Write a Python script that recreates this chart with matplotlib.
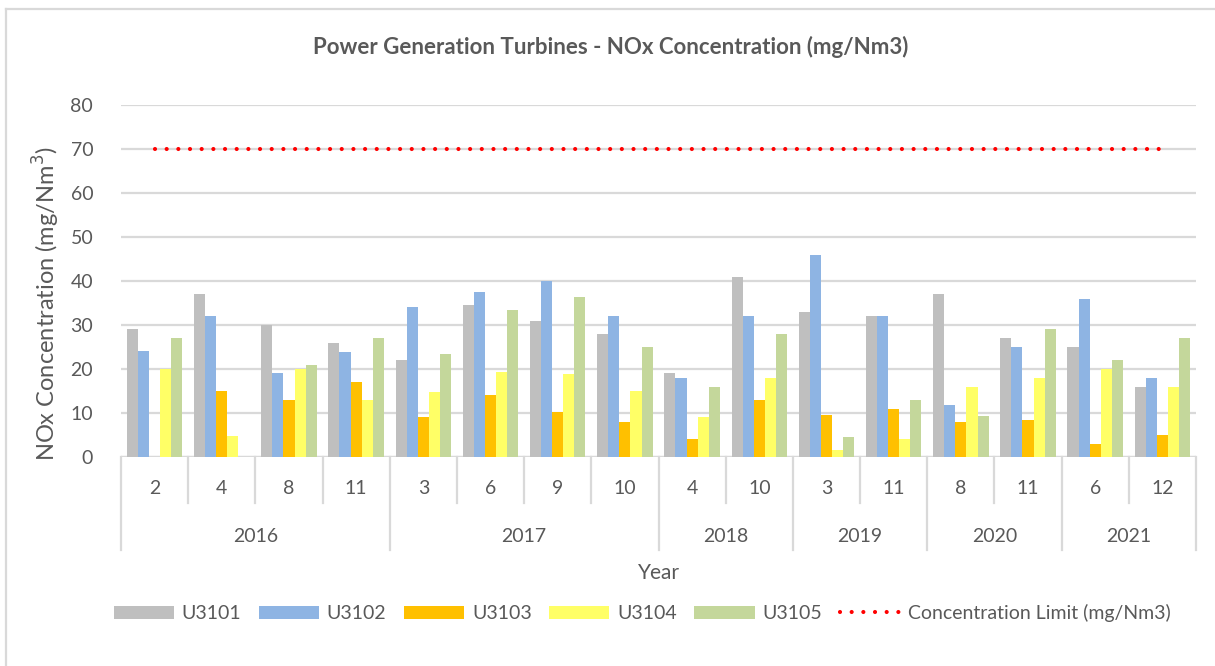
import numpy as np
import matplotlib
matplotlib.use("Agg")
import matplotlib.pyplot as plt
from matplotlib.patches import Patch
from matplotlib.lines import Line2D
import matplotlib.transforms as mtransforms

# ---- data ----
months = ['2', '4', '8', '11', '3', '6', '9', '10', '4', '10', '3', '11', '8', '11', '6', '12']
years = ['2016', '2017', '2018', '2019', '2020', '2021']
months_per_year = [4, 4, 2, 2, 2, 2]
series_names = ['U3101', 'U3102', 'U3103', 'U3104', 'U3105']
u3101 = [29, 37, 30, 26, 22, 34.5, 31, 28, 19, 41, 33, 32, 37, 27, 25, 16]
u3102 = [24, 32, 19, 23.8, 34, 37.5, 40, 32, 18, 32, 46, 32, 11.8, 25, 36, 18]
u3103 = [np.nan, 15, 13, 17, 9, 14, 10.3, 8, 4, 13, 9.5, 11, 8, 8.3, 3, 5]
u3104 = [20, 4.8, 20, 13, 14.7, 19.3, 18.9, 15, 9, 18, 1.5, 4, 16, 18, 20, 16]
u3105 = [27, np.nan, 21, 27, 23.4, 33.3, 36.4, 25, 16, 28, 4.5, 13, 9.4, 29, 22, 27]
limit = [70] * 16
limit_name = 'Concentration Limit (mg/Nm3)'

colors = ['#BFBFBF', '#8EB4E3', '#FFC000', '#FFFF66', '#C4D79B']
txt = '#595959'
grid_c = '#D9D9D9'

plt.rcParams['font.family'] = ['Lato', 'DejaVu Sans']

W, H = 1215, 666
fig = plt.figure(figsize=(W / 100, H / 100), dpi=100)
L, R, B, T = 121, 1196, 457, 105
ax = fig.add_axes([L / W, 1 - B / H, (R - L) / W, (B - T) / H])

n = len(months)
x = np.arange(n)
bw = 1 / 6.05
all_series = [u3101, u3102, u3103, u3104, u3105]
for i, (vals, c) in enumerate(zip(all_series, colors)):
    ax.bar(x + (i - 2) * bw, vals, width=bw, color=c, edgecolor='none', zorder=3)

ax.plot(x, limit, color='#FF0000', lw=3.0, linestyle=(0, (0.001, 2.8)),
        dash_capstyle='round', zorder=4)

ax.set_xlim(-0.5, n - 0.5)
ax.set_ylim(0, 80)
ax.set_yticks(np.arange(0, 81, 10))
ax.yaxis.grid(True, color=grid_c, lw=1.6, zorder=0)
ax.set_axisbelow(True)
for s in ax.spines.values():
    s.set_visible(False)
ax.tick_params(axis='y', length=0, pad=20, labelsize=14, labelcolor=txt)
ax.set_xticks([])
ax.axhline(0, color=grid_c, lw=1.6, zorder=2)

# hierarchical category axis
tr = mtransforms.blended_transform_factory(ax.transData, ax.transAxes)
y_month = (B - 489) / (B - T)
y_msep = (B - 503) / (B - T)
y_ysep = (B - 550) / (B - T)
y_year = (B - 537) / (B - T)
for i, m in enumerate(months):
    ax.text(i, y_month, m, transform=tr, ha='center', va='center', fontsize=14, color=txt)
bounds = np.concatenate([[0], np.cumsum(months_per_year)])
year_edges = set(bounds.tolist())
for k in range(n + 1):
    ybot = y_ysep if k in year_edges else y_msep
    ax.plot([k - 0.5, k - 0.5], [0, ybot], transform=tr, color=grid_c, lw=1.6, clip_on=False)
for j, yname in enumerate(years):
    cx = (bounds[j] + bounds[j + 1] - 1) / 2
    ax.text(cx, y_year, yname, transform=tr, ha='center', va='center', fontsize=14, color=txt)

# axis titles
fig.text((L + R) / 2 / W, 1 - 573 / H, 'Year', ha='center', va='center', fontsize=15, color=txt)
fig.text(46 / W, 1 - 304 / H, 'NOx Concentration (mg/Nm$^3$)', rotation=90,
         ha='center', va='center', fontsize=17, color=txt)
fig.text(611 / W, 1 - 47 / H, 'Power Generation Turbines - NOx Concentration (mg/Nm3)',
         ha='center', va='center', fontsize=16, fontweight='bold', color=txt)

# legend
handles = [Patch(facecolor=c, edgecolor='none') for c in colors]
handles.append(Line2D([0], [0], color='#FF0000', lw=3.0, linestyle=(0, (0.001, 2.8)),
                      dash_capstyle='round'))
labels = series_names + [limit_name]
leg = fig.legend(handles, labels, loc='center', bbox_to_anchor=(642 / W, 1 - 613 / H),
                 ncol=6, frameon=False, fontsize=14, handlelength=3.1, handleheight=0.67,
                 handletextpad=0.4, columnspacing=0.9, labelcolor=txt)

# outer chart border (left and top visible)
fig.add_artist(Line2D([6 / W, 6 / W], [0, 1 - 9 / H], transform=fig.transFigure,
                      color=grid_c, lw=1.6))
fig.add_artist(Line2D([6 / W, 1], [1 - 9 / H, 1 - 9 / H], transform=fig.transFigure,
                      color=grid_c, lw=1.6))

fig.savefig('out.png', dpi=100, facecolor='white')
